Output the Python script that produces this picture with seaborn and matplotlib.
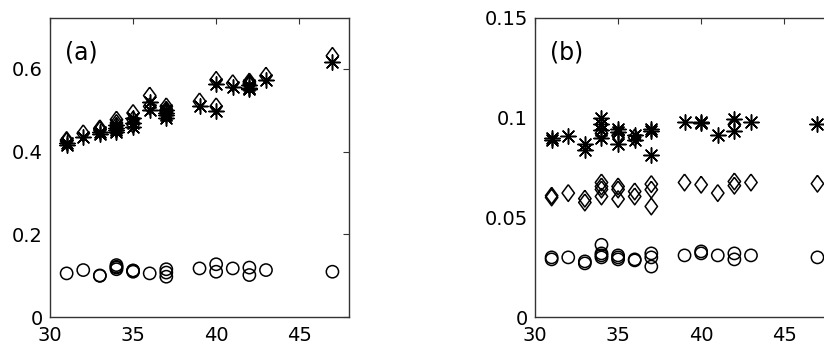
import numpy as np
import pandas as pd
import matplotlib
matplotlib.use("Agg")
import matplotlib.pyplot as plt
import seaborn as sns

# ---- data ----
# panel (a)
a_star_x = [31, 31, 32, 33, 33, 34, 34, 34, 34, 35, 35, 35, 36, 36, 37, 37, 37, 37, 39, 40, 40, 41, 42, 42, 42, 43, 47]
a_star_y = [0.415, 0.420, 0.434, 0.446, 0.443, 0.465, 0.458, 0.452, 0.448, 0.480, 0.470, 0.460, 0.520, 0.500,
            0.500, 0.492, 0.487, 0.481, 0.510, 0.563, 0.498, 0.555, 0.560, 0.553, 0.550, 0.573, 0.617]
a_diam_x = [31, 31, 32, 33, 33, 34, 34, 34, 34, 35, 35, 35, 36, 36, 37, 37, 37, 37, 39, 40, 40, 41, 42, 42, 42, 43, 47]
a_diam_y = [0.428, 0.425, 0.444, 0.456, 0.452, 0.477, 0.469, 0.462, 0.455, 0.493, 0.477, 0.465, 0.535, 0.509,
            0.509, 0.501, 0.497, 0.493, 0.521, 0.573, 0.509, 0.565, 0.569, 0.565, 0.561, 0.583, 0.631]
a_circ_x = [31, 32, 33, 33, 34, 34, 34, 34, 35, 35, 35, 36, 37, 37, 37, 39, 40, 40, 41, 42, 42, 43, 47]
a_circ_y = [0.106, 0.114, 0.100, 0.101, 0.126, 0.122, 0.116, 0.120, 0.1125, 0.110, 0.113, 0.106,
            0.116, 0.108, 0.098, 0.118, 0.128, 0.110, 0.118, 0.120, 0.102, 0.114, 0.110]

# panel (b)
b_star_x = [31, 31, 32, 33, 33, 34, 34, 34, 34, 35, 35, 35, 36, 36, 37, 37, 37, 39, 40, 40, 41, 42, 42, 43, 47]
b_star_y = [0.090, 0.089, 0.091, 0.0868, 0.084, 0.0999, 0.097, 0.094, 0.0898, 0.0943, 0.093, 0.087,
            0.0915, 0.089, 0.0943, 0.0935, 0.0814, 0.098, 0.098, 0.0975, 0.0915, 0.0995, 0.0935, 0.0976, 0.097]
b_diam_x = [31, 31, 32, 33, 33, 34, 34, 34, 34, 34, 35, 35, 35, 35, 36, 36, 36, 37, 37, 37, 39, 40, 41, 42, 42, 42, 43, 47]
b_diam_y = [0.0609, 0.060, 0.0622, 0.0594, 0.0575, 0.0675, 0.0655, 0.064, 0.0605, 0.092, 0.0655, 0.064, 0.0592, 0.091,
            0.063, 0.0605, 0.090, 0.0667, 0.0639, 0.0555, 0.0675, 0.0664, 0.0622, 0.068, 0.0659, 0.0965, 0.0675, 0.0669]
b_circ_x = [31, 31, 32, 33, 33, 34, 34, 34, 34, 35, 35, 35, 36, 36, 37, 37, 37, 39, 40, 40, 41, 42, 42, 43, 47]
b_circ_y = [0.030, 0.029, 0.030, 0.027, 0.028, 0.0363, 0.031, 0.030, 0.032, 0.031, 0.029, 0.030, 0.029, 0.0285,
            0.032, 0.030, 0.0254, 0.031, 0.033, 0.032, 0.031, 0.032, 0.029, 0.031, 0.030]

sns.set_style("white")
plt.rcParams['font.family'] = ['DejaVu Sans']
plt.rcParams['text.color'] = 'black'

diamond = [(0, 1), (0.74, 0), (0, -1), (-0.74, 0), (0, 1)]
asterisk = (8, 2, 0)

fig = plt.figure(figsize=(8.24, 3.49), dpi=100)
ax1 = fig.add_axes([0.0607, 0.0908, 0.3629, 0.8585])
ax2 = fig.add_axes([0.6493, 0.0908, 0.3629, 0.8585])


def draw(ax, sx, sy, dx, dy, cx, cy):
    sns.scatterplot(x=sx, y=sy, ax=ax, marker=asterisk, color='black', s=120, linewidth=1.1)
    sns.scatterplot(x=dx, y=dy, ax=ax, marker=diamond, facecolor='none', edgecolor='black', s=145, linewidth=1.1)
    sns.scatterplot(x=cx, y=cy, ax=ax, marker='o', facecolor='none', edgecolor='black', s=78, linewidth=1.1)


draw(ax1, a_star_x, a_star_y, a_diam_x, a_diam_y, a_circ_x, a_circ_y)
draw(ax2, b_star_x, b_star_y, b_diam_x, b_diam_y, b_circ_x, b_circ_y)

ax1.set_ylim(0, 0.723)
ax1.set_yticks([0, 0.2, 0.4, 0.6])
ax1.set_yticklabels(['0', '0.2', '0.4', '0.6'])
ax2.set_ylim(0, 0.15)
ax2.set_yticks([0, 0.05, 0.1, 0.15])
ax2.set_yticklabels(['0', '0.05', '0.1', '0.15'])

for ax, lab in [(ax1, '(a)'), (ax2, '(b)')]:
    ax.set_xlim(30, 48)
    ax.set_xticks([30, 35, 40, 45])
    ax.tick_params(direction='in', length=4, width=0.8, top=True, right=True,
                   labelsize=14, colors='#333333', labelcolor='black', pad=5)
    ax.tick_params(axis='x', pad=6)
    for sp in ax.spines.values():
        sp.set_color('#333333')
        sp.set_linewidth(1.0)
    ax.set_xlabel('')
    ax.set_ylabel('')
    ax.text(0.05, 0.885, lab, transform=ax.transAxes, fontsize=17, va='center', ha='left', color='black')

fig.savefig('out.png', dpi=100)
